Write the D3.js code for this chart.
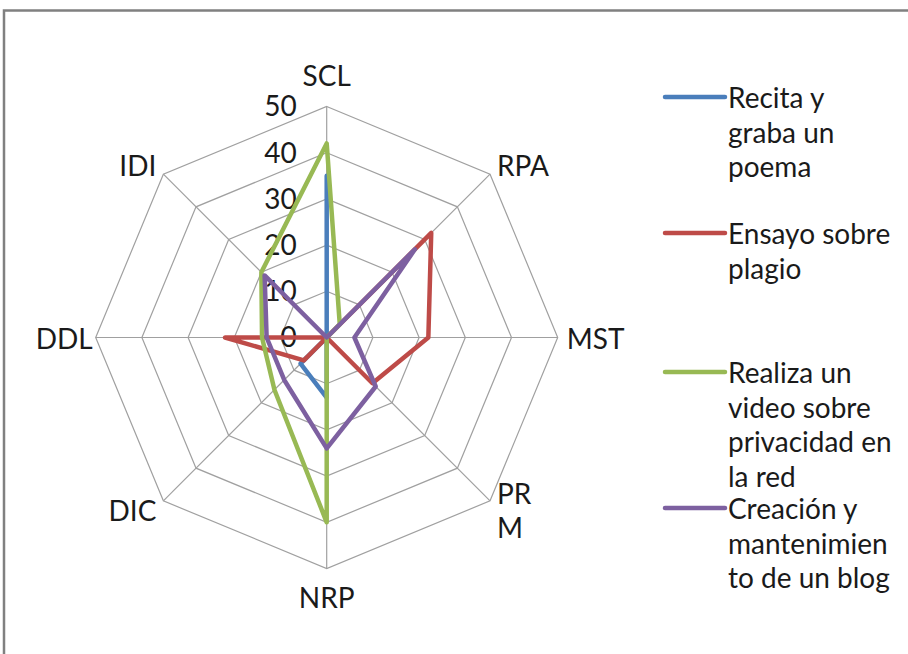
<!DOCTYPE html>
<html>
<head>
<meta charset="utf-8">
<script src="https://cdn.jsdelivr.net/npm/d3@7"></script>
<style>
  html, body { margin: 0; padding: 0; background: #fff; }
  svg { display: block; font-family: Lato, "Open Sans", sans-serif; }
</style>
</head>
<body>
<svg id="chart" width="908" height="654"></svg>
<script>
// ---- data ----
const categories = ["SCL", "RPA", "MST", "PRM", "NRP", "DIC", "DDL", "IDI"];
const categoryLines = [["SCL"], ["RPA"], ["MST"], ["PR", "M"], ["NRP"], ["DIC"], ["DDL"], ["IDI"]];
const tickValues = [0, 10, 20, 30, 40, 50];

const seriesNames = [
  ["Recita y", "graba un", "poema"],
  ["Ensayo sobre", "plagio"],
  ["Realiza un", "video sobre", "privacidad en", "la red"],
  ["Creación y", "mantenimien", "to de un blog"]
];
const recita = [35, 0, 0, 0, 13, 8, 0, 0];
const ensayo = [0, 32, 22, 14, 0, 7, 22, 0];
const video  = [42, 4, 0, 0, 40, 16, 14, 20];
const blog   = [0, 27, 6, 15, 24, 13, 13, 19];
const seriesValues = [recita, ensayo, video, blog];
const seriesColors = ["#4a7ebb", "#be4b48", "#98b954", "#7d60a0"];

// ---- layout ----
const svg = d3.select("#chart");
const cx = 326.7, cy = 337.5;
const R = 231;
const fontSize = 28;

// frame
svg.append("path")
  .attr("d", "M4,654 L4,10.5 L908,10.5")
  .attr("fill", "none").attr("stroke", "#808080").attr("stroke-width", 2.5);

const r = d3.scaleLinear().domain([0, 50]).range([0, R]);
const angle = d3.scaleLinear().domain([0, categories.length]).range([0, 2 * Math.PI]);
const pt = (i, v) => [cx + r(v) * Math.sin(angle(i)), cy - r(v) * Math.cos(angle(i))];

const g = svg.append("g");

// grid rings
tickValues.filter(t => t > 0).forEach(t => {
  g.append("path")
    .attr("d", d3.line()(categories.map((c, i) => pt(i, t))) + "Z")
    .attr("fill", "none").attr("stroke", "#a0a0a0").attr("stroke-width", 1.2);
});
// spokes
categories.forEach((c, i) => {
  const p = pt(i, 50);
  g.append("line").attr("x1", cx).attr("y1", cy).attr("x2", p[0]).attr("y2", p[1])
    .attr("stroke", "#a0a0a0").attr("stroke-width", 1.2);
});

// tick labels
tickValues.forEach(t => {
  g.append("text")
    .attr("x", cx - 30).attr("y", cy - r(t))
    .attr("dy", "0.35em")
    .attr("text-anchor", "end")
    .attr("font-size", fontSize).attr("fill", "#1a1a1a")
    .text(t);
});

// category labels
categoryLines.forEach((lines, i) => {
  const a = angle(i);
  const s = Math.sin(a), c = Math.cos(a);
  let anchor = "middle", x, y;
  const p = pt(i, 50);
  if (Math.abs(s) < 0.1) {
    x = p[0];
    y = p[1] - c * 30;
  } else {
    anchor = s > 0 ? "start" : "end";
    const horiz = Math.abs(c) < 0.1;
    x = p[0] + (s > 0 ? 1 : -1) * (horiz ? (s > 0 ? 9 : 3) : 7);
    y = p[1] - (horiz ? -2 : (c > 0 ? 8 : -10));
  }
  const lh = 34;
  const t = g.append("text")
    .attr("text-anchor", anchor)
    .attr("font-size", fontSize).attr("fill", "#1a1a1a");
  lines.forEach((ln, k) => {
    t.append("tspan").attr("x", x)
      .attr("y", y + (k - (lines.length - 1) / 2) * lh)
      .attr("dy", "0.35em")
      .text(ln);
  });
});

// series
const radial = d3.lineRadial()
  .angle((d, i) => angle(i))
  .radius(d => r(d))
  .curve(d3.curveLinearClosed);

seriesValues.forEach((vals, si) => {
  svg.append("path")
    .attr("transform", `translate(${cx},${cy})`)
    .attr("d", radial(vals))
    .attr("fill", "none")
    .attr("stroke", seriesColors[si])
    .attr("stroke-width", 4.5)
    .attr("stroke-linejoin", "round");
});

// legend
const legendY = [97, 233, 372, 508];
const legend = svg.append("g");
seriesNames.forEach((lines, si) => {
  const y0 = legendY[si];
  legend.append("line")
    .attr("x1", 665).attr("x2", 725).attr("y1", y0).attr("y2", y0)
    .attr("stroke", seriesColors[si]).attr("stroke-width", 4.5).attr("stroke-linecap", "round");
  const t = legend.append("text").attr("font-size", fontSize).attr("fill", "#1a1a1a");
  lines.forEach((ln, k) => {
    t.append("tspan").attr("x", 728).attr("y", y0 + 11 + k * 34.5).text(ln);
  });
});
</script>
</body>
</html>
